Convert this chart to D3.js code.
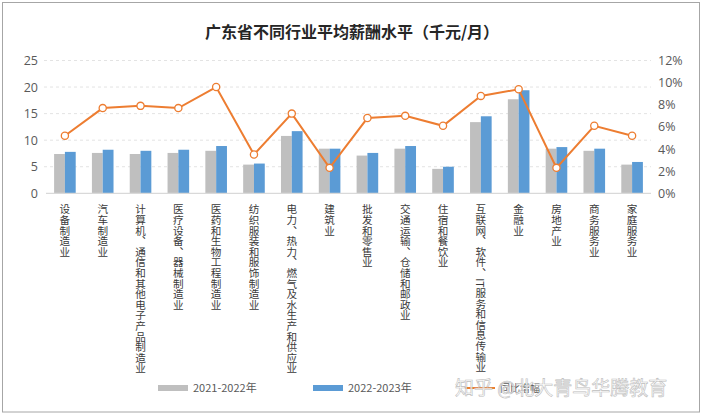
<!DOCTYPE html>
<html lang="zh">
<head>
<meta charset="UTF-8">
<title>广东省不同行业平均薪酬水平</title>
<script src="https://cdn.jsdelivr.net/npm/d3@7/dist/d3.min.js"></script>
<style>
  body { margin: 0; background: #fff; }
  text { font-family: "Noto Sans CJK SC", "Noto Sans", sans-serif; }
</style>
</head>
<body>
<script>
const categories = ['设备制造业', '汽车制造业', '计算机、通信和其他电子产品制造业', '医疗设备、器械制造业',
  '医药和生物工程制造业', '纺织服装和服饰制造业', '电力、热力、燃气及水生产和供应业', '建筑业',
  '批发和零售业', '交通运输、仓储和邮政业', '住宿和餐饮业', '互联网、软件、IT服务和信息传输业',
  '金融业', '房地产业', '商务服务业', '家庭服务业'];
const pay2122 = [7.4, 7.6, 7.4, 7.6, 8.0, 5.4, 10.8, 8.4, 7.1, 8.4, 4.6, 13.4, 17.7, 8.4, 8.0, 5.4];
const pay2223 = [7.8, 8.2, 8.0, 8.2, 8.9, 5.6, 11.7, 8.4, 7.6, 8.9, 5.0, 14.5, 19.4, 8.7, 8.4, 5.9];
const growth = [5.2, 7.7, 7.9, 7.7, 9.6, 3.5, 7.2, 2.3, 6.8, 7.0, 6.1, 8.8, 9.4, 2.3, 6.1, 5.2];
const leftTicks = [0, 5, 10, 15, 20, 25];
const rightTicks = [0, 2, 4, 6, 8, 10, 12];
const seriesNames = ['2021-2022年', '2022-2023年', '同比增幅'];

const width = 702, height = 418;
const svg = d3.select('body').append('svg').attr('width', width).attr('height', height);

// frame
svg.append('rect').attr('x', 2.5).attr('y', 2.5).attr('width', 697).attr('height', 409.5)
  .attr('fill', '#fff').attr('stroke', '#a6a6a6');

svg.append('text').attr('x', 352).attr('y', 38).attr('text-anchor', 'middle')
  .attr('font-size', '16px').attr('font-weight', 'bold').attr('fill', '#262626')
  .text('广东省不同行业平均薪酬水平（千元/月）');

const x = d3.scaleBand().domain(categories).range([46, 651]);
const y = d3.scaleLinear().domain([0, 25]).range([193.3, 60.5]);
const y2 = d3.scaleLinear().domain([0, 12]).range([193.3, 60.5]);
const barW = 10.8;

// grid
svg.append('g').selectAll('line').data(leftTicks.slice(1)).enter().append('line')
  .attr('x1', 44).attr('x2', 651)
  .attr('y1', d => y(d)).attr('y2', d => y(d))
  .attr('stroke', '#e3e3e3').attr('stroke-dasharray', '3,3');

// left axis
const yAxis = svg.append('g').attr('transform', 'translate(38,0)')
  .call(d3.axisLeft(y).tickValues(leftTicks).tickSize(0).tickPadding(0));
yAxis.select('.domain').remove();
yAxis.selectAll('text').attr('font-size', '12.5px').attr('fill', '#595959')
  .style('font-family', '"Open Sans", "Noto Sans", sans-serif');

// right axis
const yAxis2 = svg.append('g').attr('transform', 'translate(658,0)')
  .call(d3.axisRight(y2).tickValues(rightTicks).tickSize(0).tickPadding(0).tickFormat(d => d + '%'));
yAxis2.select('.domain').remove();
yAxis2.selectAll('text').attr('font-size', '12.5px').attr('fill', '#595959')
  .style('font-family', '"Open Sans", "Noto Sans", sans-serif');

// bars
svg.append('g').selectAll('rect').data(pay2122).enter().append('rect')
  .attr('x', (d, i) => x(categories[i]) + x.bandwidth() / 2 - barW)
  .attr('y', d => y(d)).attr('width', barW).attr('height', d => y(0) - y(d))
  .attr('fill', '#bfbfbf');
svg.append('g').selectAll('rect').data(pay2223).enter().append('rect')
  .attr('x', (d, i) => x(categories[i]) + x.bandwidth() / 2)
  .attr('y', d => y(d)).attr('width', barW).attr('height', d => y(0) - y(d))
  .attr('fill', '#5b9bd5');

// baseline
svg.append('line').attr('x1', 46).attr('x2', 651).attr('y1', y(0)).attr('y2', y(0))
  .attr('stroke', '#d9d9d9').attr('stroke-width', 1.2);

// growth line
const line = d3.line().x((d, i) => x(categories[i]) + x.bandwidth() / 2).y(d => y2(d));
svg.append('path').datum(growth).attr('d', line)
  .attr('fill', 'none').attr('stroke', '#ed7d31').attr('stroke-width', 2);
svg.append('g').selectAll('circle').data(growth).enter().append('circle')
  .attr('cx', (d, i) => x(categories[i]) + x.bandwidth() / 2).attr('cy', d => y2(d))
  .attr('r', 3.6).attr('fill', '#fff').attr('stroke', '#ed7d31').attr('stroke-width', 1.3);

// vertical category labels
svg.append('g').selectAll('text').data(categories).enter().append('text')
  .attr('x', d => x(d) + x.bandwidth() / 2).attr('y', 204)
  .style('writing-mode', 'vertical-rl')
  .attr('font-size', '10.6px').attr('fill', '#3a3a3a')
  .text(d => d);

// legend
const legend = svg.append('g');
legend.append('rect').attr('x', 158).attr('y', 385).attr('width', 30).attr('height', 6).attr('fill', '#bfbfbf');
legend.append('text').attr('x', 193).attr('y', 392).attr('font-size', '11px').attr('fill', '#595959').text(seriesNames[0]);
legend.append('rect').attr('x', 313).attr('y', 385).attr('width', 30).attr('height', 6).attr('fill', '#5b9bd5');
legend.append('text').attr('x', 348).attr('y', 392).attr('font-size', '11px').attr('fill', '#595959').text(seriesNames[1]);
legend.append('line').attr('x1', 465).attr('x2', 495).attr('y1', 388).attr('y2', 388)
  .attr('stroke', '#ed7d31').attr('stroke-width', 2);
legend.append('text').attr('x', 500).attr('y', 392).attr('font-size', '10px').attr('fill', '#595959').text(seriesNames[2]);

// watermark (overlaps the third legend entry, as in the source image)
svg.append('text').attr('x', 455).attr('y', 395).attr('font-size', '19px')
  .attr('fill', '#ffffff').attr('fill-opacity', 0.8).attr('stroke', '#bdbdbd').attr('stroke-width', 0.6)
  .text('知乎 @北大青鸟华腾教育');
</script>
</body>
</html>
